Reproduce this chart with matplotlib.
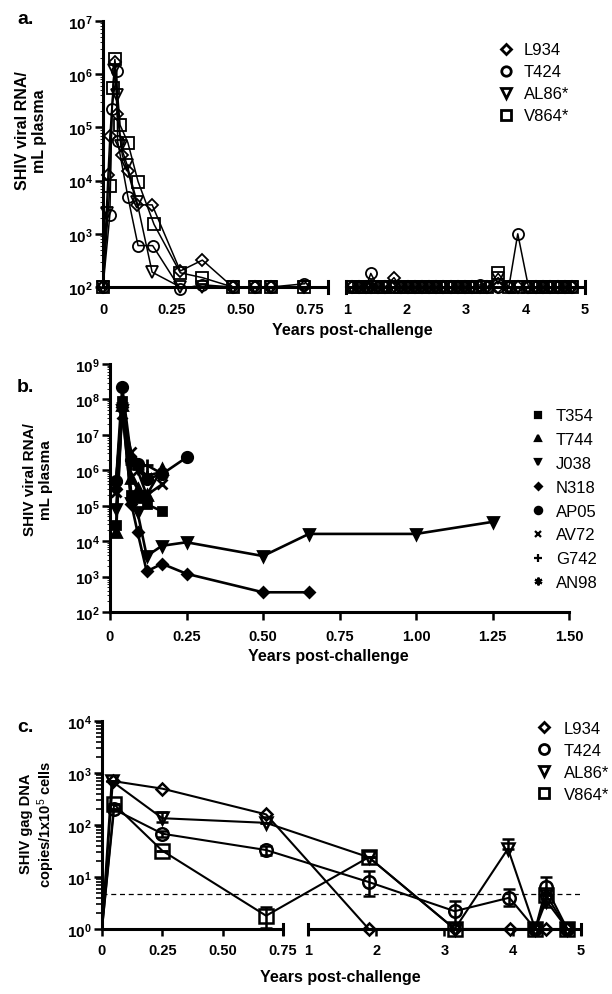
import numpy as np
import matplotlib
matplotlib.use('Agg')
import matplotlib.pyplot as plt
from matplotlib.lines import Line2D
from matplotlib.ticker import LogLocator, NullFormatter

plt.rcParams['font.family'] = ['Liberation Sans', 'DejaVu Sans']
plt.rcParams['mathtext.fontset'] = 'custom'
plt.rcParams['mathtext.rm'] = 'Liberation Sans'
plt.rcParams['mathtext.bf'] = 'Liberation Sans:bold'
plt.rcParams['mathtext.it'] = 'Liberation Sans:italic'

W, H = 612, 995

# ---------------- panel a: plasma viral RNA (vaccinated) ----------------
a_names = ['L934', 'T424', 'AL86*', 'V864*']
a_markers = ['D', 'o', 'v', 's']

l934_t = [0, 0.018, 0.025, 0.043, 0.051, 0.07, 0.09, 0.123, 0.178, 0.28, 0.36, 0.47, 0.55, 0.61, 0.73]
l934_v = [100, 1.3e4, 7e4, 1.7e6, 1.8e5, 3e4, 1.5e4, 3.5e3, 3.5e3, 200, 320, 100, 100, 100, 100]
t424_t = [0, 0.025, 0.032, 0.05, 0.053, 0.09, 0.127, 0.18, 0.28, 0.36, 0.47, 0.55, 0.61, 0.73]
t424_v = [100, 2.3e3, 2.2e5, 1.15e6, 5.5e4, 5e3, 600, 600, 92, 110, 100, 100, 100, 115]
al86_t = [0, 0.015, 0.04, 0.051, 0.065, 0.087, 0.123, 0.178, 0.28, 0.36, 0.47, 0.55, 0.61, 0.73]
al86_v = [100, 2.5e3, 1.2e6, 4e5, 4.4e4, 2e4, 4e3, 190, 100, 100, 100, 100, 100, 100]
v864_t = [0, 0.025, 0.036, 0.043, 0.062, 0.09, 0.127, 0.185, 0.28, 0.36, 0.47, 0.55, 0.61, 0.73]
v864_v = [100, 7.8e3, 5.6e5, 1.9e6, 1.1e5, 5.2e4, 9.6e3, 1.5e3, 185, 150, 100, 100, 100, 100]

# later follow-up (after the axis break)
late_t = [1.08, 1.2, 1.32, 1.4, 1.52, 1.64, 1.79, 1.9, 2.02, 2.14, 2.26, 2.38, 2.5, 2.62, 2.74,
          2.86, 2.98, 3.1, 3.24, 3.36, 3.54, 3.72, 3.87, 4.05, 4.18, 4.3, 4.42, 4.54, 4.66, 4.78]
l934_late = [100, 100, 100, 100, 100, 100, 150, 100, 100, 100, 100, 100, 100, 100, 100,
             100, 100, 100, 100, 100, 100, 100, 100, 100, 100, 100, 100, 100, 100, 100]
t424_late = [100, 100, 100, 180, 100, 100, 100, 100, 100, 100, 100, 100, 100, 100, 100,
             100, 100, 100, 110, 100, 100, 100, 1000, 100, 100, 100, 100, 100, 100, 100]
al86_late = [100, 100, 100, 100, 100, 100, 100, 100, 100, 100, 100, 100, 100, 100, 100,
             100, 100, 100, 100, 100, 150, 100, 100, 100, 100, 100, 100, 100, 100, 100]
v864_late = [100, 100, 100, 100, 100, 100, 100, 100, 100, 100, 100, 100, 100, 100, 100,
             100, 100, 100, 100, 100, 180, 100, 100, 100, 100, 100, 100, 100, 100, 100]

# ---------------- panel b: plasma viral RNA (controls) ----------------
b_names = ['T354', 'T744', 'J038', 'N318', 'AP05', 'AV72', 'G742', 'AN98']
b_markers = ['s', '^', 'v', 'D', 'o', 'x', '+', (6, 2, 0)]
early_t = [0.02, 0.04, 0.07, 0.09, 0.12, 0.17]
t354_v = [2.8e4, 9e7, 2e5, 1.6e5, 1.1e5, 7e4]
t744_v = [1.8e4, 7e7, 6e5, 3e5, 2e5, 1.1e6]
j038_t = [0.02, 0.04, 0.07, 0.09, 0.12, 0.17, 0.25, 0.5, 0.65, 1.0, 1.25]
j038_v = [8e4, 5e7, 1.2e5, 6.6e4, 3.8e3, 7.4e3, 9.3e3, 3.8e3, 1.6e4, 1.6e4, 3.5e4]
n318_t = [0.02, 0.04, 0.07, 0.09, 0.12, 0.17, 0.25, 0.5, 0.65]
n318_v = [3e5, 6e7, 1.1e5, 1.8e4, 1.4e3, 2.3e3, 1.2e3, 360, 360]
ap05_t = [0.02, 0.04, 0.07, 0.09, 0.12, 0.17, 0.25]
ap05_v = [5e5, 2.2e8, 2e6, 1.5e6, 5.6e5, 7.8e5, 2.3e6]
av72_v = [2.4e5, 4e7, 3.2e6, 1e6, 2e5, 4e5]
g742_v = [4.7e5, 8e7, 1.5e6, 1.1e6, 1.4e6, 8e5]
an98_v = [5e5, 6e7, 2e6, 1.3e6, 7e5, 9e5]

# ---------------- panel c: proviral gag DNA ----------------
c_l934_t = [0, 0.045, 0.25, 0.68, 1.89, 3.15, 3.96, 4.33, 4.49, 4.8]
c_l934_v = [1, 700, 500, 160, 1, 1, 1, 1, 1, 1]
c_t424_t = [0, 0.05, 0.25, 0.68, 1.89, 3.15, 3.95, 4.33, 4.49, 4.8]
c_t424_v = [1, 200, 68, 33, 8, 2.2, 4, 1, 6.3, 1]
c_t424_lo = [0, 0, 8, 6, 3.7, 1.0, 1.2, 0, 1.8, 0]
c_t424_hi = [0, 0, 8, 7, 5, 1.2, 1.8, 0, 3.5, 0]
c_al86_t = [0, 0.04, 0.25, 0.68, 1.89, 3.15, 3.93, 4.33, 4.49, 4.8]
c_al86_v = [1, 700, 135, 110, 24, 1, 35, 1, 3.5, 1]
c_al86_lo = [0, 0, 20, 0, 0, 0, 0, 0, 0.8, 0]
c_al86_hi = [0, 0, 40, 0, 0, 0, 20, 0, 1.5, 0]
c_v864_t = [0, 0.05, 0.25, 0.68, 1.89, 3.15, 4.33, 4.49, 4.8]
c_v864_v = [1, 250, 32, 1.8, 24, 1, 1, 4.5, 1]
c_v864_lo = [0, 0, 0, 0.75, 0, 0, 0, 0.8, 0]
c_v864_hi = [0, 0, 0, 0.8, 0, 0, 0, 1.2, 0]
detect_limit = 4.7


def rect(x0, y0, x1, y1):
    return [x0 / W, 1 - y1 / H, (x1 - x0) / W, (y1 - y0) / H]


def broken_scale(years, px):
    return (lambda t: np.interp(t, years, px), lambda p: np.interp(p, px, years))


def dec_labels(lo, hi):
    return [r'$\mathbf{10^{%d}}$' % k for k in range(lo, hi + 1)]


def style_yaxis(ax, lo, hi):
    ax.set_yscale('log')
    ax.set_ylim(10 ** lo, 10 ** hi)
    ax.set_yticks([10 ** k for k in range(lo, hi + 1)], labels=dec_labels(lo, hi))
    ax.tick_params(axis='y', which='major', length=6, width=1.8, pad=1.5, labelsize=11)
    ax.spines['left'].set_linewidth(2.2)
    for s in ['top', 'right']:
        ax.spines[s].set_visible(False)


def draw_segments(ax, segs, total):
    ax.spines['bottom'].set_visible(False)
    for x0, x1 in segs:
        ax.plot([x0 / total, x1 / total], [0, 0], transform=ax.transAxes,
                color='k', lw=2.2, clip_on=False, zorder=1, solid_capstyle='butt')
    for x0, x1 in segs:
        for xx in (x0, x1):
            if xx == 0:
                continue
            ax.plot([xx / total, xx / total], [-0.022, 0.022], transform=ax.transAxes,
                    color='k', lw=2.2, clip_on=False, zorder=1)


fig = plt.figure(figsize=(6.12, 9.95), dpi=100)
bold = dict(fontweight='bold')

# ================= panel a =================
axa = fig.add_axes(rect(103, 22, 585, 288))
fa, ia = broken_scale([0, 0.75, 1, 5], [0, 207, 244, 482])
axa.set_xscale('function', functions=(fa, ia))
axa.set_xlim(0, 5)
style_yaxis(axa, 2, 7)
draw_segments(axa, [(0, 225), (243, 482)], 482)
axa.set_xticks([0, 0.25, 0.5, 0.75, 1, 2, 3, 4, 5],
               labels=['0', '0.25', '0.50', '0.75', '1', '2', '3', '4', '5'])
axa.tick_params(axis='x', length=0, pad=11, labelsize=10.5)
for lab in axa.get_xticklabels() + axa.get_yticklabels():
    lab.set_fontweight('bold')

a_early = [(l934_t, l934_v), (t424_t, t424_v), (al86_t, al86_v), (v864_t, v864_v)]
a_late = [l934_late, t424_late, al86_late, v864_late]
a_ms = [6, 8, 8, 8.6]
for i in range(4):
    for tt, vv in [a_early[i], (late_t, a_late[i])]:
        axa.plot(tt, vv, color='k', lw=1.1, marker=a_markers[i], ms=a_ms[i],
                 mfc='none', mec='k', mew=1.3, clip_on=False, zorder=3)

ha = [Line2D([], [], ls='none', marker=m, ms=s * 0.85, mfc='none', mec='k', mew=2)
      for m, s in zip(a_markers, a_ms)]
axa.legend(ha, a_names, loc='upper left', bbox_to_anchor=(489 / W, 1 - 35 / H),
           bbox_transform=fig.transFigure, frameon=False, fontsize=12,
           handlelength=1.0, handletextpad=0.6, labelspacing=0.42, borderpad=0)

fig.text(31 / W, 1 - 131 / H, 'SHIV viral RNA/\nmL plasma', rotation=90, ha='center',
         va='center', fontsize=11.5, linespacing=1.1, **bold)
fig.text(352 / W, 1 - 331 / H, 'Years post-challenge', ha='center', va='center',
         fontsize=11.5, **bold)
fig.text(17 / W, 1 - 20 / H, 'a.', ha='left', va='center', fontsize=14, **bold)

# ================= panel b =================
axb = fig.add_axes(rect(110, 365, 569, 613))
style_yaxis(axb, 2, 9)
axb.set_xlim(0, 1.5)
axb.spines['bottom'].set_linewidth(2.2)
axb.set_xticks([0, 0.25, 0.5, 0.75, 1.0, 1.25, 1.5],
               labels=['0', '0.25', '0.50', '0.75', '1.00', '1.25', '1.50'])
axb.tick_params(axis='x', length=6, width=1.8, pad=6, labelsize=10.5)
for lab in axb.get_xticklabels() + axb.get_yticklabels():
    lab.set_fontweight('bold')

b_series = [(early_t, t354_v), (early_t, t744_v), (j038_t, j038_v), (n318_t, n318_v),
            (ap05_t, ap05_v), (early_t, av72_v), (early_t, g742_v), (early_t, an98_v)]
b_ms = [6, 7, 7, 5, 7.5, 7, 8, 8]
for (tt, vv), m, s in zip(b_series, b_markers, b_ms):
    axb.plot(tt, vv, color='k', lw=1.9, marker=m, ms=s, mfc='k', mec='k', mew=2,
             clip_on=False, zorder=3)

hb = [Line2D([], [], ls='none', marker=m, ms=s * 0.7, mfc='k', mec='k', mew=1.6)
      for m, s in zip(b_markers, b_ms)]
axb.legend(hb, b_names, loc='upper left', bbox_to_anchor=(521 / W, 1 - 401 / H),
           bbox_transform=fig.transFigure, frameon=False, fontsize=12,
           handlelength=1.0, handletextpad=0.6, labelspacing=0.53, borderpad=0)

fig.text(38 / W, 1 - 480 / H, 'SHIV viral RNA/\nmL plasma', rotation=90, ha='center',
         va='center', fontsize=11, linespacing=1.1, **bold)
fig.text(328 / W, 1 - 657 / H, 'Years post-challenge', ha='center', va='center',
         fontsize=11.5, **bold)
fig.text(17 / W, 1 - 388 / H, 'b.', ha='left', va='center', fontsize=14, **bold)

# ================= panel c =================
axc = fig.add_axes(rect(102, 722, 581, 930))
fc, ic = broken_scale([0, 0.75, 1, 5], [0, 181, 206, 479])
axc.set_xscale('function', functions=(fc, ic))
axc.set_xlim(0, 5)
style_yaxis(axc, 0, 4)
axc.yaxis.set_minor_locator(LogLocator(base=10, subs=np.arange(2, 10), numticks=20))
axc.yaxis.set_minor_formatter(NullFormatter())
axc.tick_params(axis='y', which='minor', length=4, width=1.2)
draw_segments(axc, [(0, 181), (206, 479)], 479)
axc.set_xticks([0, 0.25, 0.5, 0.75, 1, 2, 3, 4, 5],
               labels=['0', '0.25', '0.50', '0.75', '1', '2', '3', '4', '5'])
axc.tick_params(axis='x', length=5, width=1.8, pad=5, labelsize=10.5)
for lab in axc.get_xticklabels() + axc.get_yticklabels():
    lab.set_fontweight('bold')

axc.axhline(detect_limit, color='k', lw=0.9, ls=(0, (4, 3)), zorder=1)

c_series = [(c_l934_t, c_l934_v, None, None), (c_t424_t, c_t424_v, c_t424_lo, c_t424_hi),
            (c_al86_t, c_al86_v, c_al86_lo, c_al86_hi), (c_v864_t, c_v864_v, c_v864_lo, c_v864_hi)]
c_ms = [6.5, 9, 9, 9.5]
for (tt, vv, lo, hi), m, s in zip(c_series, a_markers, c_ms):
    axc.plot(tt, vv, color='k', lw=1.5, zorder=2, clip_on=False)
    axc.plot(tt[1:], vv[1:], ls='none', marker=m, ms=s, mfc='none', mec='k', mew=1.8,
             clip_on=False, zorder=3)
    if lo is not None:
        axc.errorbar(tt, vv, yerr=[lo, hi], fmt='none', ecolor='k', elinewidth=1.8,
                     capsize=4, capthick=1.8, zorder=3)

hc = [Line2D([], [], ls='none', marker=m, ms=s * 0.8, mfc='none', mec='k', mew=2)
      for m, s in zip(a_markers, c_ms)]
axc.legend(hc, a_names, loc='upper left', bbox_to_anchor=(527 / W, 1 - 714 / H),
           bbox_transform=fig.transFigure, frameon=False, fontsize=12,
           handlelength=1.0, handletextpad=0.7, labelspacing=0.42, borderpad=0)

fig.text(38 / W, 1 - 824 / H, 'SHIV gag DNA\ncopies/1x10$^5$ cells', rotation=90,
         ha='center', va='center', fontsize=10.5, linespacing=1.1, **bold)
fig.text(340 / W, 1 - 978 / H, 'Years post-challenge', ha='center', va='center',
         fontsize=11.5, **bold)
fig.text(17 / W, 1 - 728 / H, 'c.', ha='left', va='center', fontsize=14, **bold)

fig.savefig('out.png', dpi=100)
